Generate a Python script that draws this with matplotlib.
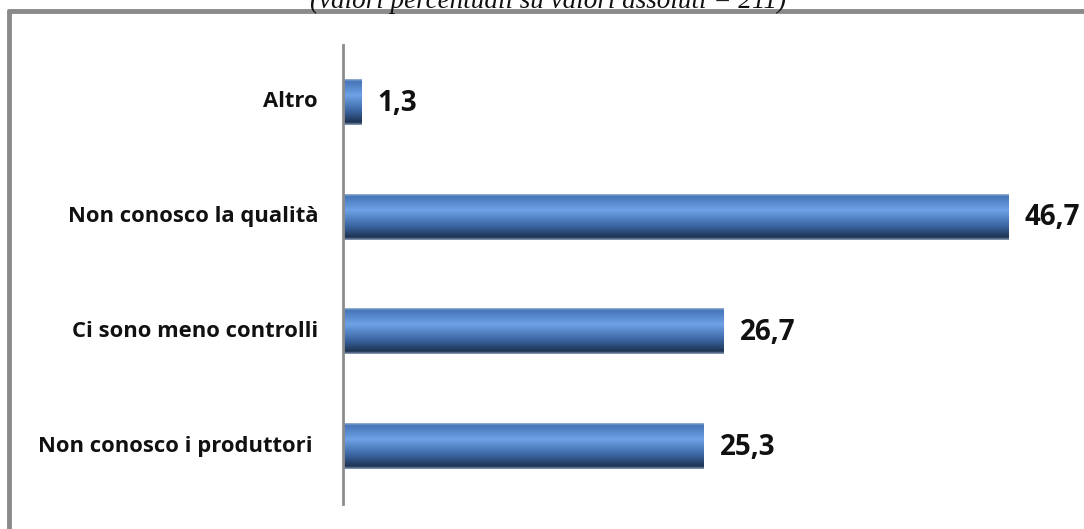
import numpy as np
import matplotlib
matplotlib.use("Agg")
import matplotlib.pyplot as plt
from matplotlib.colors import LinearSegmentedColormap
from matplotlib.lines import Line2D

# Data (percentages, n = 211)
categories = ["Non conosco i produttori ", "Ci sono meno controlli", "Non conosco la qualità", "Altro"]
values = [25.3, 26.7, 46.7, 1.3]
value_labels = ["25,3", "26,7", "46,7", "1,3"]
subtitle = "(valori percentuali su valori assoluti = 211)"

W, H = 1084, 529
fig = plt.figure(figsize=(W / 100, H / 100), dpi=100)
fig.patch.set_facecolor("white")

# Plot area
ax = fig.add_axes([343 / W, 25.5 / H, 713 / W, 459 / H])
ax.set_xlim(0, 50)
ax.set_ylim(-0.5, len(categories) - 0.5)
for s in ["top", "right", "bottom"]:
    ax.spines[s].set_visible(False)
ax.spines["left"].set_color("#8c8c8c")
ax.spines["left"].set_linewidth(2)
ax.set_xticks([])
ax.set_yticks([])
ax.patch.set_alpha(0)

# Vertical gradient used to fill each bar (top -> bottom)
grad = LinearSegmentedColormap.from_list(
    "bar_grad",
    [(0.0, "#9db5d6"), (0.05, "#4676b8"), (0.35, "#6ea2e6"),
     (0.7, "#3a64a0"), (0.94, "#1e3352"), (1.0, "#8fa3bd")],
)
gradient = np.linspace(0, 1, 256).reshape(-1, 1)

y_pos = np.arange(len(categories))
bars = ax.barh(y_pos, values, height=0.4, color="none", edgecolor="none")
for bar, lab, v, y in zip(bars, value_labels, values, y_pos):
    x0, yb = bar.get_x(), bar.get_y()
    w, h = bar.get_width(), bar.get_height()
    im = ax.imshow(gradient, cmap=grad, aspect="auto",
                   extent=[x0, x0 + w, yb, yb + h], origin="upper", zorder=2)
    im.set_clip_path(bar)
    ax.text(v + 1.1, y - 0.01, lab, ha="left", va="center", fontsize=20,
            fontweight="bold", family="Open Sans", color="#111111", clip_on=False)

ax.set_xlim(0, 50)
ax.set_ylim(-0.5, len(categories) - 0.5)

# Category labels
for y, c in zip(y_pos, categories):
    ax.text(-1.75, y, c, ha="right", va="center", fontsize=15.8,
            fontweight="bold", family="Open Sans", color="#111111", clip_on=False)

# Outer frame (top and left edges)
fig.add_artist(Line2D([8.5 / W, 8.5 / W], [0, 1 - 10 / H], transform=fig.transFigure,
                      color="#8a8a8a", linewidth=3.5, solid_capstyle="butt"))
fig.add_artist(Line2D([7 / W, 1], [1 - 11 / H, 1 - 11 / H], transform=fig.transFigure,
                      color="#8a8a8a", linewidth=3.5, solid_capstyle="butt"))

# Subtitle above the frame
fig.text(548 / W, 1 - 7.5 / H, subtitle, ha="center", va="baseline",
         fontsize=19.5, style="italic", family="Liberation Serif", color="#111111")

fig.savefig("out.png", dpi=100, facecolor="white")
